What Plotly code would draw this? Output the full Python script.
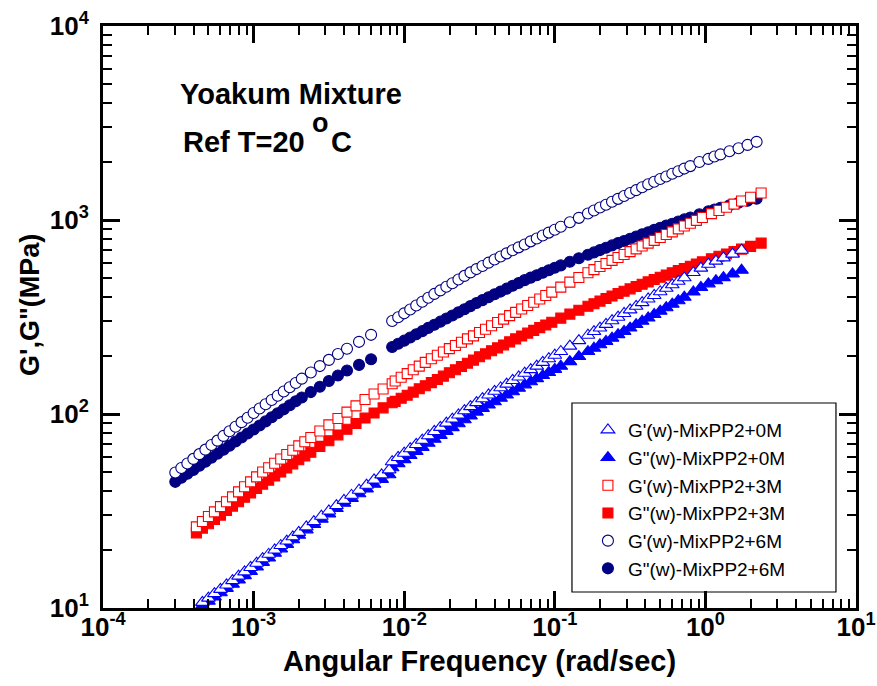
import plotly.graph_objects as go

# ---------------- data ----------------
freq_6M = [3.020e-4, 3.311e-4, 3.631e-4, 3.981e-4, 4.365e-4, 4.786e-4, 5.248e-4, 5.754e-4, 6.310e-4, 6.918e-4,
           7.586e-4, 8.318e-4, 9.120e-4, 1.000e-3, 1.096e-3, 1.202e-3, 1.318e-3, 1.445e-3, 1.585e-3, 1.738e-3,
           1.905e-3, 2.089e-3, 2.399e-3, 2.754e-3, 3.162e-3, 3.631e-3, 4.169e-3, 5.012e-3, 6.026e-3,
           8.318e-3, 9.120e-3, 1.000e-2, 1.096e-2, 1.202e-2, 1.318e-2, 1.445e-2, 1.585e-2, 1.738e-2, 1.905e-2,
           2.089e-2, 2.291e-2, 2.512e-2, 2.754e-2, 3.020e-2, 3.311e-2, 3.631e-2, 3.981e-2, 4.365e-2, 4.786e-2,
           5.248e-2, 5.754e-2, 6.310e-2, 6.918e-2, 7.586e-2, 8.318e-2, 9.120e-2, 0.1000,
           0.1096, 0.1259, 0.1445,
           0.1660, 0.1820, 0.1995, 0.2188, 0.2399, 0.2630, 0.2884, 0.3162, 0.3467, 0.3802, 0.4169, 0.4571,
           0.5012, 0.5495, 0.6026, 0.6607, 0.7244, 0.7943,
           0.9120, 1.047, 1.148, 1.259, 1.445, 1.660, 1.905, 2.188]
gp_6M = [49.9, 52.7, 55.6, 58.7, 62.1, 65.5, 69.2, 72.9, 77.1, 81.5, 85.9, 90.8, 95.7, 101.2, 106.7, 112.2,
         118.0, 124.1, 130.6, 137.4, 144.5, 152.1, 163.7, 176.6, 190.1, 203.7, 216.8, 235.5, 255.9,
         301.3, 315.5, 330.3, 345.9, 362.3, 379.3, 397.2, 415.9, 433.5, 452.9, 472.0, 493.2, 515.2, 537.0,
         558.5, 579.4, 602.6, 625.2, 648.7, 673.0, 698.2, 722.7, 748.2, 776.2, 803.5, 831.8, 861.0, 891.3,
         922.6, 972.8, 1025.7,
         1081, 1119, 1159, 1199, 1242, 1285, 1330, 1377, 1425, 1475, 1528, 1574, 1626, 1675, 1730, 1783, 1841, 1896,
         1990, 2065, 2123, 2178, 2260, 2344, 2438, 2529]
gpp_6M = [44.7, 46.9, 49.2, 51.5, 54.1, 56.8, 59.6, 62.5, 65.5, 68.7, 72.1, 75.7, 79.4, 83.2, 87.3, 91.6,
          96.2, 100.9, 105.7, 110.9, 116.4, 121.6, 129.7, 138.3, 147.9, 157.8, 167.5, 179.1, 191.4,
          221.3, 230.2, 238.8, 247.8, 257.7, 267.3, 278.0, 288.4, 299.2, 310.4, 322.1, 334.2, 346.7, 359.8,
          373.3, 386.4, 399.9, 414.0, 427.6, 442.6, 458.2, 473.1, 489.8, 504.7, 518.8, 534.6, 550.8, 567.5,
          583.4, 609.6, 635.4,
          662.2, 680.7, 699.8, 719.4, 739.6, 760.3, 779.8, 799.8, 822.3, 843.4, 865.0, 889.2, 912.0, 935.4,
          957.2, 981.7, 1007, 1030,
          1069, 1109, 1132, 1156, 1191, 1227, 1256, 1288]

freq_3M = [4.169e-4, 4.571e-4, 5.012e-4, 5.495e-4, 6.026e-4, 6.607e-4, 7.244e-4, 7.943e-4, 8.710e-4, 9.550e-4,
           1.047e-3, 1.148e-3, 1.259e-3, 1.380e-3, 1.514e-3, 1.660e-3, 1.820e-3, 1.995e-3, 2.188e-3,
           2.399e-3, 2.754e-3, 3.162e-3, 3.631e-3, 4.169e-3, 4.786e-3, 5.495e-3, 6.310e-3, 7.244e-3, 8.318e-3,
           8.710e-3, 9.550e-3, 1.047e-2, 1.148e-2, 1.259e-2, 1.380e-2, 1.514e-2, 1.660e-2, 1.820e-2, 1.995e-2,
           2.188e-2, 2.399e-2, 2.630e-2, 2.884e-2, 3.162e-2, 3.467e-2, 3.802e-2, 4.169e-2, 4.571e-2, 5.012e-2,
           5.495e-2, 6.026e-2, 6.607e-2, 7.244e-2, 7.943e-2, 8.710e-2, 9.550e-2,
           0.1096, 0.1259, 0.1445,
           0.1660, 0.1820, 0.1995, 0.2188, 0.2399, 0.2630, 0.2884, 0.3162, 0.3467, 0.3802, 0.4169, 0.4571,
           0.5012, 0.5495, 0.6026, 0.6607, 0.7244, 0.7943, 0.8710,
           0.9550, 1.096, 1.230, 1.380, 1.549, 1.738, 1.995, 2.344]
gp_3M = [26.2, 27.9, 29.6, 31.3, 33.3, 35.3, 37.4, 39.7, 42.2, 44.7, 47.4, 50.2, 52.8, 55.7, 58.6, 61.8,
         65.0, 68.5, 71.9, 75.7, 81.7, 87.9, 94.8, 102.3, 110.1, 118.8, 126.8, 134.6, 143.2,
         147.9, 154.6, 161.4, 169.1, 176.6, 184.5, 192.7, 200.9, 208.9, 217.3, 225.4, 234.4, 243.8, 252.9,
         263.0, 273.5, 285.1, 296.5, 308.3, 321.4, 334.2, 347.5, 362.3, 376.7, 391.7, 408.3, 424.6,
         450.8, 478.6, 505.8,
         534.6, 554.6, 575.4, 597.0, 619.5, 641.3, 663.7, 687.0, 709.5, 734.5, 760.3, 785.2, 812.8, 841.5,
         869.0, 899.6, 931.1, 961.6, 995.4,
         1030, 1079, 1119, 1164, 1208, 1253, 1309, 1377]
gpp_3M = [24.4, 25.8, 27.2, 28.6, 30.1, 31.8, 33.5, 35.3, 37.2, 39.2, 41.3, 43.5, 45.6, 47.9, 50.2, 52.7,
          55.3, 58.1, 60.8, 63.5, 68.1, 72.8, 78.0, 83.4, 89.3, 95.3, 101.2, 107.6, 114.3,
          116.1, 120.5, 125.0, 129.7, 134.9, 139.9, 145.2, 150.7, 156.7, 163.3, 169.1, 175.8, 182.8, 189.6,
          197.2, 204.2, 211.8, 219.3, 227.0, 235.5, 243.8, 252.4, 261.2, 269.8, 278.6, 287.7, 297.1,
          311.9, 327.3, 342.8,
          359.0, 369.9, 381.9, 393.6, 405.5, 417.9, 429.5, 441.6, 453.9, 466.6, 479.7, 493.2, 507.0, 520.0,
          534.6, 548.2, 562.3, 578.0, 592.9,
          608.2, 631.0, 650.2, 668.4, 688.6, 707.9, 731.1, 760.3]

freq_0M = [4.571e-4, 5.012e-4, 5.495e-4, 6.026e-4, 6.607e-4, 7.244e-4, 7.943e-4, 8.710e-4, 9.550e-4, 1.047e-3,
           1.148e-3, 1.259e-3, 1.380e-3, 1.514e-3, 1.660e-3, 1.820e-3, 1.995e-3,
           2.239e-3, 2.512e-3, 2.818e-3, 3.162e-3, 3.548e-3, 3.981e-3, 4.467e-3, 5.012e-3, 5.623e-3, 6.310e-3,
           7.079e-3, 7.943e-3,
           8.318e-3, 9.120e-3, 1.000e-2, 1.096e-2, 1.202e-2, 1.318e-2, 1.445e-2, 1.585e-2, 1.738e-2, 1.905e-2,
           2.089e-2, 2.291e-2, 2.512e-2, 2.754e-2, 3.020e-2, 3.311e-2, 3.631e-2, 3.981e-2, 4.365e-2, 4.786e-2,
           5.248e-2, 5.754e-2, 6.310e-2, 6.918e-2, 7.586e-2, 8.318e-2, 9.120e-2, 0.1000,
           0.1096, 0.1259, 0.1445,
           0.1660, 0.1820, 0.1995, 0.2188, 0.2399, 0.2630, 0.2884, 0.3162, 0.3467, 0.3802, 0.4169, 0.4571,
           0.5012, 0.5495, 0.6026, 0.6607, 0.7244,
           0.8318, 0.9333, 1.047, 1.175, 1.318, 1.514, 1.738]
gp_0M = [10.69, 11.25, 11.86, 12.47, 13.15, 13.84, 14.59, 15.35, 16.18, 17.02, 17.95, 18.92, 19.91, 20.99,
         22.13, 23.28, 24.55, 26.18, 27.86, 29.72, 31.62, 33.73, 35.89, 38.11, 40.46, 42.95, 45.71, 48.53, 51.52,
         56.75, 59.70, 62.81, 66.22, 69.66, 73.28, 77.27, 81.28, 85.32, 89.74, 94.19, 98.86, 104.0, 109.1,
         114.5, 119.9, 125.3, 130.9, 136.5, 142.6, 148.9, 155.2, 162.2, 169.4, 176.6, 184.5, 192.7, 200.9,
         209.9, 223.9, 238.8,
         254.7, 266.1, 277.3, 289.7, 302.7, 315.5, 329.6, 344.3, 359.0, 375.0, 391.7, 408.3, 426.6, 444.6,
         463.4, 483.1, 503.5,
         535.8, 564.9, 591.6, 613.8, 638.3, 666.8, 698.2]
gpp_0M = [10.30, 10.84, 11.40, 11.99, 12.62, 13.27, 13.96, 14.69, 15.45, 16.29, 17.18, 18.11, 19.14, 20.18,
          21.28, 22.49, 23.71, 25.29, 26.92, 28.71, 30.55, 32.58, 34.67, 36.73, 38.82, 41.11, 43.45, 46.03, 48.64,
          52.84, 55.46, 58.21, 61.10, 64.13, 67.30, 70.63, 74.13, 77.62, 81.28, 85.11, 89.13, 93.33, 97.72,
          102.3, 106.9, 111.2, 115.6, 120.5, 125.3, 130.3, 135.8, 141.3, 146.6, 152.1, 157.8, 163.7, 169.8,
          176.2, 186.2, 197.7,
          209.9, 218.3, 227.5, 236.6, 246.0, 256.4, 266.7, 277.3, 289.1, 300.6, 312.6, 325.8, 338.8, 353.2,
          368.1, 383.7, 399.9,
          425.6, 448.7, 468.8, 486.4, 504.7, 527.2, 550.8]

series_names = ["G'(w)-MixPP2+0M", 'G"(w)-MixPP2+0M', "G'(w)-MixPP2+3M",
                'G"(w)-MixPP2+3M', "G'(w)-MixPP2+6M", 'G"(w)-MixPP2+6M']

x_tick_vals = [1e-4, 1e-3, 1e-2, 1e-1, 1e0, 1e1]
x_tick_text = ["10<sup>-4</sup>", "10<sup>-3</sup>", "10<sup>-2</sup>",
               "10<sup>-1</sup>", "10<sup>0</sup>", "10<sup>1</sup>"]
y_tick_vals = [1e1, 1e2, 1e3, 1e4]
y_tick_text = ["10<sup>1</sup>", "10<sup>2</sup>", "10<sup>3</sup>", "10<sup>4</sup>"]
minor_mult = [2, 3, 4, 5, 6, 7, 8, 9]

# ---------------- figure ----------------
BLUE, RED, NAVY = "#0000FF", "#FF0000", "#000080"
FONT = "Liberation Sans, Arial, sans-serif"

fig = go.Figure()

def add(x, y, name, symbol, color, filled, size, rank):
    fig.add_trace(go.Scatter(
        x=x, y=y, mode="markers", name=name, legendrank=rank,
        marker=dict(symbol=symbol, size=size,
                    color=color if filled else "white",
                    line=dict(color=color, width=1.1)),
    ))

# drawing order: 6M first (bottom), then 3M, then 0M on top
add(freq_6M, gpp_6M, series_names[5], "circle", NAVY, True, 11, 6)
add(freq_6M, gp_6M, series_names[4], "circle", NAVY, False, 11, 5)
add(freq_3M, gpp_3M, series_names[3], "square", RED, True, 10, 4)
add(freq_3M, gp_3M, series_names[2], "square", RED, False, 10, 3)
add(freq_0M, gpp_0M, series_names[1], "triangle-up", BLUE, True, 12, 2)
add(freq_0M, gp_0M, series_names[0], "triangle-up", BLUE, False, 12, 1)


def minor_positions(major):
    return [m * v for v in major[:-1] for m in minor_mult]


axis_common = dict(
    type="log", showgrid=False, zeroline=False, automargin=False,
    ticks="inside", ticklen=17, tickwidth=2.5, tickcolor="black",
    showline=True, linewidth=3, linecolor="black", mirror="allticks",
    tickfont=dict(family=FONT, size=26, color="black", weight="bold"),
)

fig.update_xaxes(range=[-4, 1], tickmode="array", tickvals=x_tick_vals, ticktext=x_tick_text,
                 minor=dict(tickmode="array", tickvals=minor_positions(x_tick_vals), ticks="inside",
                            ticklen=9, tickwidth=2, tickcolor="black", showgrid=False),
                 ticklabelstandoff=-6,
                 title=dict(text="Angular Frequency (rad/sec)", standoff=10,
                            font=dict(family=FONT, size=29, color="black", weight="bold")),
                 **axis_common)
fig.update_yaxes(range=[1, 4], tickmode="array", tickvals=y_tick_vals, ticktext=y_tick_text,
                 minor=dict(tickmode="array", tickvals=minor_positions(y_tick_vals), ticks="inside",
                            ticklen=9, tickwidth=2, tickcolor="black", showgrid=False),
                 ticklabelstandoff=6,
                 **axis_common)

ANN_FONT = dict(family=FONT, size=29, color="black", weight="bold")
fig.add_annotation(text="G',G\"(MPa)", xref="paper", yref="paper", x=-0.0969, y=0.5206,
                   xanchor="center", yanchor="middle", textangle=-90, showarrow=False,
                   font=dict(family=FONT, size=27, color="black", weight="bold"))
fig.add_annotation(text="Yoakum Mixture", xref="paper", yref="paper", x=0.0996, y=0.883,
                   xanchor="left", yanchor="middle", showarrow=False, font=ANN_FONT)
fig.add_annotation(text="Ref T=20", xref="paper", yref="paper", x=0.1036, y=0.800,
                   xanchor="left", yanchor="middle", showarrow=False, font=ANN_FONT)
fig.add_annotation(text="o", xref="paper", yref="paper", x=0.2895, y=0.833,
                   xanchor="center", yanchor="middle", showarrow=False,
                   font=dict(family=FONT, size=27, color="black", weight="bold"))
fig.add_annotation(text="C", xref="paper", yref="paper", x=0.3000, y=0.800,
                   xanchor="left", yanchor="middle", showarrow=False, font=ANN_FONT)

# legend frame
fig.add_shape(type="rect", xref="paper", yref="paper", x0=0.6228, x1=0.9734, y0=0.0275, y1=0.3522,
              line=dict(color="black", width=1.2), fillcolor="white", layer="below")

fig.update_layout(
    width=877, height=686,
    margin=dict(l=103, r=21, t=26, b=78),
    paper_bgcolor="white", plot_bgcolor="white",
    showlegend=True,
    legend=dict(x=0.644, y=0.3385, xanchor="left", yanchor="top",
                bgcolor="rgba(0,0,0,0)", borderwidth=0,
                font=dict(family=FONT, size=19, color="black")),
)

fig.write_html("out.html", config={"displayModeBar": False},
               post_script="document.body.style.margin='0px';")
